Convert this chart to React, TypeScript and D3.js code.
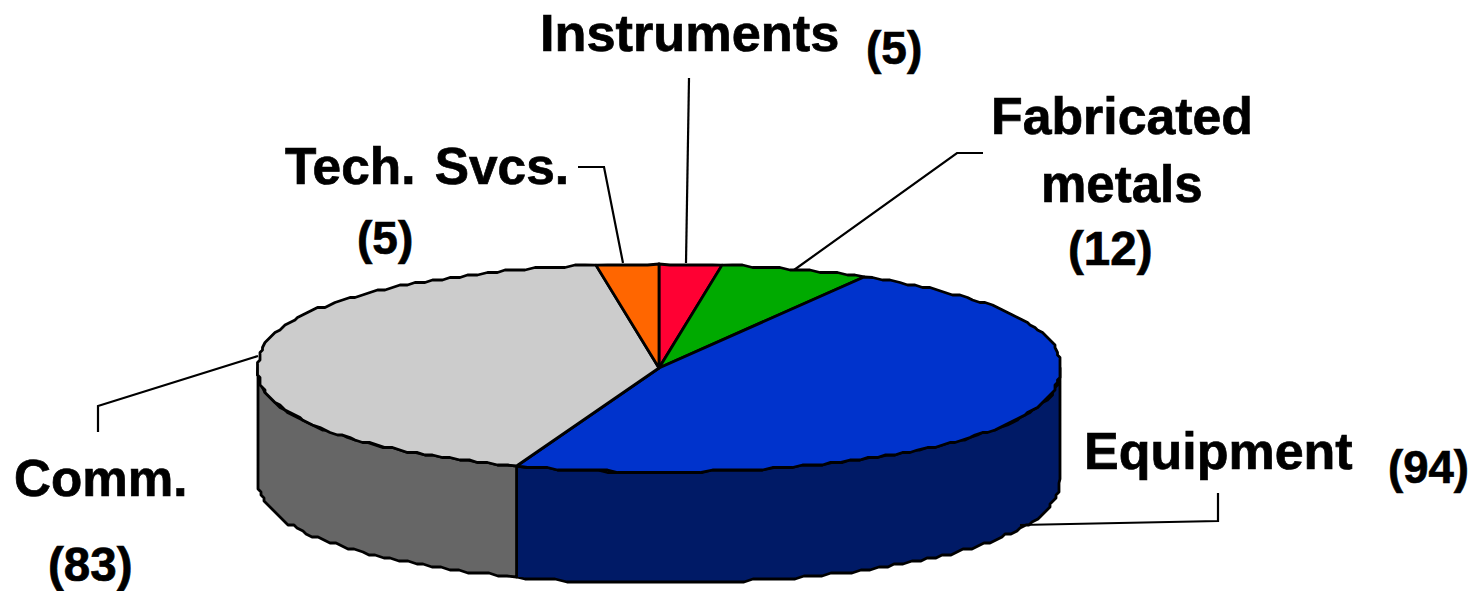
import React from "react";
import * as d3 from "d3";

const categories = ["Instruments", "Fabricated metals", "Equipment", "Comm.", "Tech. Svcs."];
const values = [5, 12, 94, 83, 5];
const topColors = ["#ff0033", "#00aa00", "#0033cc", "#cccccc", "#ff6600"];
const wallColors = ["#990020", "#006600", "#001a66", "#666666", "#993d00"];

type Label = { text: string; x: number; y: number; size: number; ws?: number };
const labels: Label[] = [
  { text: "Instruments", x: 540, y: 51, size: 52.3 },
  { text: "(5)", x: 866, y: 64, size: 46 },
  { text: "Fabricated", x: 991, y: 134, size: 51.8 },
  { text: "metals", x: 1041, y: 202, size: 51 },
  { text: "(12)", x: 1068, y: 265, size: 47.5 },
  { text: "Tech. Svcs.", x: 285, y: 184, size: 51.4, ws: 5 },
  { text: "(5)", x: 357, y: 254, size: 46 },
  { text: "Comm.", x: 14, y: 496, size: 51.2 },
  { text: "(83)", x: 48, y: 581, size: 47.5 },
  { text: "Equipment", x: 1084, y: 469, size: 52 },
  { text: "(94)", x: 1388, y: 483, size: 45.5 },
];
const leaders: [number, number][][] = [
  [[689, 78], [686, 263]],
  [[578, 167], [604, 167], [623, 263]],
  [[983, 153], [957, 153], [794, 270]],
  [[258, 356], [98, 406], [98, 432]],
  [[1218, 493], [1218, 521], [1020, 525]],
];

const cx = 659, cy = 368, rx = 401, ry = 104, depth = 111;
const x = d3.scaleLinear().domain([-1, 1]).range([cx - rx, cx + rx]);
const y = d3.scaleLinear().domain([-1, 1]).range([cy - ry, cy + ry]);
const pie = d3.pie<number>().sort(null);
const arcs = pie(values);
const line = d3.line();

const q = (v: number, s: number) => Math.round(v / s) * s;
const fuller = (c: number) => Math.sign(c) * Math.pow(Math.abs(c), 0.88);
// The outline is a coarse polyline, so the rim reads as slightly stepped.
function rim(a0: number, a1: number, dy: number, step: number): [number, number][] {
  const n = Math.max(1, Math.round((a1 - a0) / 0.026));
  const pts: [number, number][] = [];
  for (let i = 0; i <= n; i++) {
    const a = a0 + ((a1 - a0) * i) / n;
    const px = x(Math.sin(a));
    const py = y(-fuller(Math.cos(a)));
    const end = i === 0 || i === n;
    pts.push([end ? px : q(px, step), (end ? py : q(py, step)) + dy]);
  }
  return pts;
}

export default function App() {
  const front0 = Math.PI / 2, front1 = (3 * Math.PI) / 2;
  return (
    <svg width={1478} height={591} style={{ position: "absolute", left: 0, top: 0, background: "#fff" }}
      fontFamily="'Liberation Sans', Arial, sans-serif" fontWeight="bold">
      <g stroke="#000" strokeWidth={2.8} strokeLinejoin="round">
        {arcs.map((d, i) => {
          const a0 = Math.max(d.startAngle, front0), a1 = Math.min(d.endAngle, front1);
          if (a1 <= a0) return null;
          const top = rim(a0, a1, 0, 2.5);
          const bottom = rim(a0, a1, depth, 3).reverse();
          return <path key={categories[i]} d={line([...top, ...bottom])! + "Z"} fill={wallColors[i]} />;
        })}
        {arcs.map((d, i) => (
          <path key={categories[i]} d={line([[x(0), y(0)], ...rim(d.startAngle, d.endAngle, 0, 2.5)])! + "Z"} fill={topColors[i]} />
        ))}
      </g>
      <g fill="none" stroke="#000" strokeWidth={2.2}>
        {leaders.map((l, i) => <path key={i} d={line(l)!} />)}
      </g>
      {labels.map((l, i) => (
        <text key={i} x={l.x} y={l.y} fontSize={l.size} fill="#000" stroke="#000" strokeWidth={0.7} wordSpacing={l.ws ?? 0}>{l.text}</text>
      ))}
    </svg>
  );
}
